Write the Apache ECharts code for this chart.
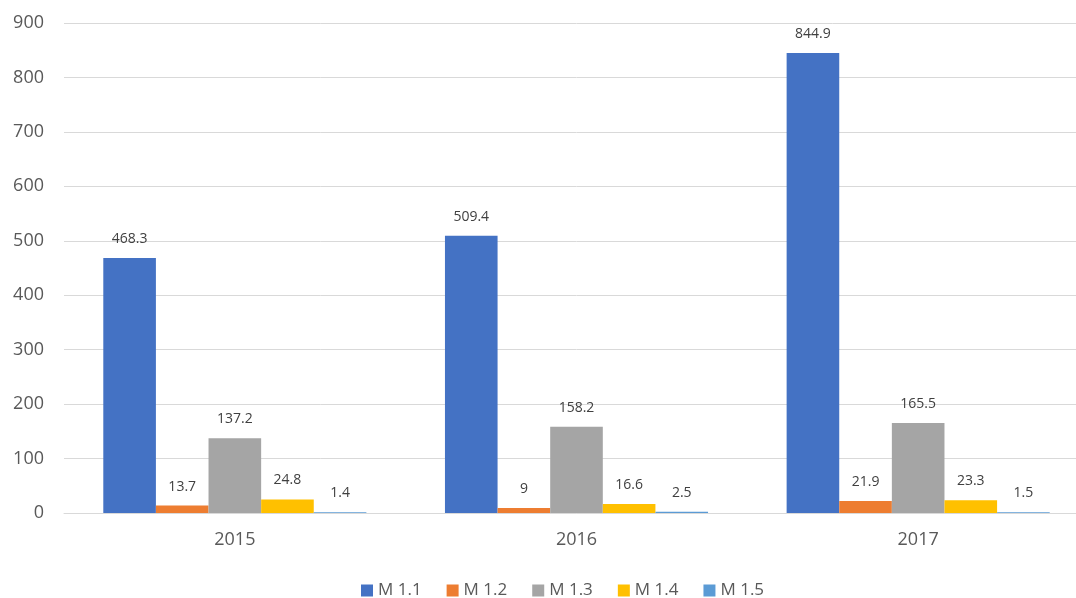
<!DOCTYPE html>
<html>
<head>
<meta charset="utf-8">
<script src="https://cdn.jsdelivr.net/npm/echarts@6/dist/echarts.min.js"></script>
<style>
  html, body { margin: 0; padding: 0; background: #fff; overflow: hidden; }
  /* 图表比窗口略宽，右侧网格线延伸到画面外 */
  #bar { width: 1090px; height: 598px; }
</style>
</head>
<body>
<div id="bar"></div>
<script>
// 数据
const years = ['2015', '2016', '2017'];
const seriesNames = ['M 1.1', 'M 1.2', 'M 1.3', 'M 1.4', 'M 1.5'];
const m11 = [468.3, 509.4, 844.9];
const m12 = [13.7, 9, 21.9];
const m13 = [137.2, 158.2, 165.5];
const m14 = [24.8, 16.6, 23.3];
const m15 = [1.4, 2.5, 1.5];
const yTicks = [0, 100, 200, 300, 400, 500, 600, 700, 800, 900];

function drawChart () {
  const myChart = echarts.init(document.getElementById('bar'));
  const font = '"Open Sans", "Noto Sans", sans-serif';
  const allData = [m11, m12, m13, m14, m15];

  const option = {
    color: ['#4472C4', '#ED7D31', '#A5A5A5', '#FFC000', '#5B9BD5'],
    textStyle: { fontFamily: font },
    legend: {
      top: 577,
      left: 356,
      icon: 'rect',
      itemWidth: 12,
      itemHeight: 12,
      itemGap: 25,
      textStyle: { fontSize: 17, color: '#595959', fontFamily: font },
      data: seriesNames
    },
    grid: {
      left: 64,
      top: 23,
      width: 1025,
      height: 490
    },
    xAxis: {
      type: 'category',
      data: years,
      axisLine: { show: true, lineStyle: { color: '#d9d9d9', width: 1 } },
      axisTick: { show: false },
      axisLabel: { fontSize: 18, color: '#595959', margin: 18, fontFamily: font },
      splitLine: { show: false }
    },
    yAxis: {
      type: 'value',
      min: yTicks[0],
      max: yTicks[yTicks.length - 1],
      interval: 100,
      axisLine: { show: false },
      axisTick: { show: false },
      axisLabel: { fontSize: 18, color: '#595959', margin: 20, fontFamily: font },
      splitLine: { show: true, lineStyle: { color: '#d9d9d9', width: 1 } }
    },
    series: seriesNames.map(function (name, i) {
      return {
        name: name,
        type: 'bar',
        barGap: '0%',
        barCategoryGap: '23%',
        data: allData[i],
        label: {
          show: true,
          position: 'top',
          distance: 12,
          fontSize: 14,
          color: '#404040',
          fontFamily: font
        }
      };
    })
  };
  myChart.setOption(option);
  window.addEventListener('resize', function () {
    myChart.resize();
  });
}
drawChart();
</script>
</body>
</html>
